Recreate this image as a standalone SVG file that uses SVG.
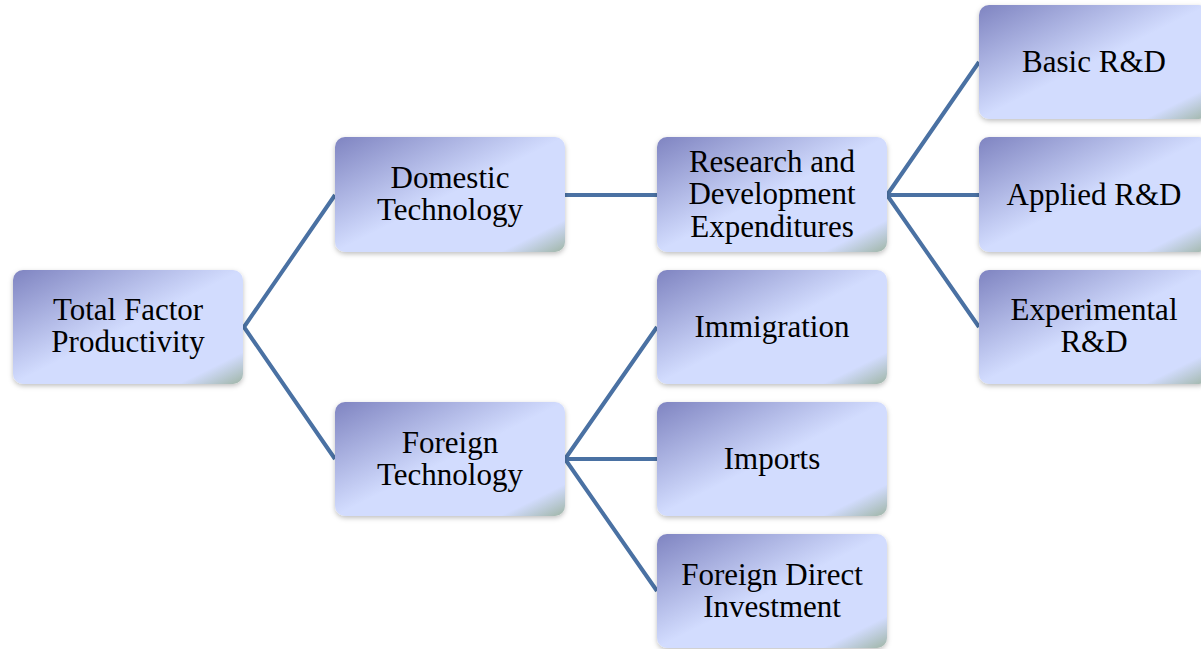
<svg xmlns="http://www.w3.org/2000/svg" width="1201" height="649" viewBox="0 0 1201 649">
  <defs>
    <linearGradient id="nodeFill" x1="0" y1="0" x2="1" y2="1">
      <stop offset="0" stop-color="#7f84c1"/>
      <stop offset="0.5" stop-color="#d2dcfe"/>
      <stop offset="0.86" stop-color="#d2dcfe"/>
      <stop offset="1" stop-color="#9fb5a6"/>
    </linearGradient>
    <filter id="shadow" x="-10%" y="-10%" width="120%" height="130%">
      <feDropShadow dx="0" dy="2" stdDeviation="2.5" flood-color="#000" flood-opacity="0.25"/>
    </filter>
  </defs>
  <style>
    .box { fill: url(#nodeFill); filter: url(#shadow); }
    .label { font-size: 31px; fill: #000; text-anchor: middle; }
    .link { stroke: #4a71a3; stroke-width: 4; fill: none; stroke-linejoin: round; }
  </style>
  <rect width="1201" height="649" fill="#fff"/>

  <g id="connectors">
    <path class="link" d="M335 195 L244 327 L335 459"/>
    <path class="link" d="M565 195 L657 195"/>
    <path class="link" d="M979 62 L887 195 L979 327 M887 195 L979 195"/>
    <path class="link" d="M657 327 L565 459 L657 591 M565 459 L657 459"/>
  </g>

  <g font-family="Liberation Serif, Times New Roman, serif">
  <g id="tfp">
    <rect class="box" x="13" y="270" width="230" height="114" rx="10"/>
    <text class="label" x="128" y="320">Total Factor</text>
    <text class="label" x="128" y="352">Productivity</text>
  </g>
  <g id="domestic">
    <rect class="box" x="335" y="137" width="230" height="115" rx="10"/>
    <text class="label" x="450" y="188">Domestic</text>
    <text class="label" x="450" y="220">Technology</text>
  </g>
  <g id="foreign">
    <rect class="box" x="335" y="402" width="230" height="114" rx="10"/>
    <text class="label" x="450" y="453">Foreign</text>
    <text class="label" x="450" y="485">Technology</text>
  </g>
  <g id="rd-expenditures">
    <rect class="box" x="657" y="137" width="230" height="115" rx="10"/>
    <text class="label" x="772" y="172">Research and</text>
    <text class="label" x="772" y="204">Development</text>
    <text class="label" x="772" y="237">Expenditures</text>
  </g>
  <g id="immigration">
    <rect class="box" x="657" y="270" width="230" height="114" rx="10"/>
    <text class="label" x="772" y="337">Immigration</text>
  </g>
  <g id="imports">
    <rect class="box" x="657" y="402" width="230" height="114" rx="10"/>
    <text class="label" x="772" y="469">Imports</text>
  </g>
  <g id="fdi">
    <rect class="box" x="657" y="534" width="230" height="114" rx="10"/>
    <text class="label" x="772" y="585">Foreign Direct</text>
    <text class="label" x="772" y="617">Investment</text>
  </g>
  <g id="basic-rd">
    <rect class="box" x="979" y="5" width="230" height="114" rx="10"/>
    <text class="label" x="1094" y="72">Basic R&amp;D</text>
  </g>
  <g id="applied-rd">
    <rect class="box" x="979" y="137" width="230" height="115" rx="10"/>
    <text class="label" x="1094" y="205">Applied R&amp;D</text>
  </g>
  <g id="experimental-rd">
    <rect class="box" x="979" y="270" width="230" height="114" rx="10"/>
    <text class="label" x="1094" y="320">Experimental</text>
    <text class="label" x="1094" y="352">R&amp;D</text>
  </g>
  </g>
</svg>
